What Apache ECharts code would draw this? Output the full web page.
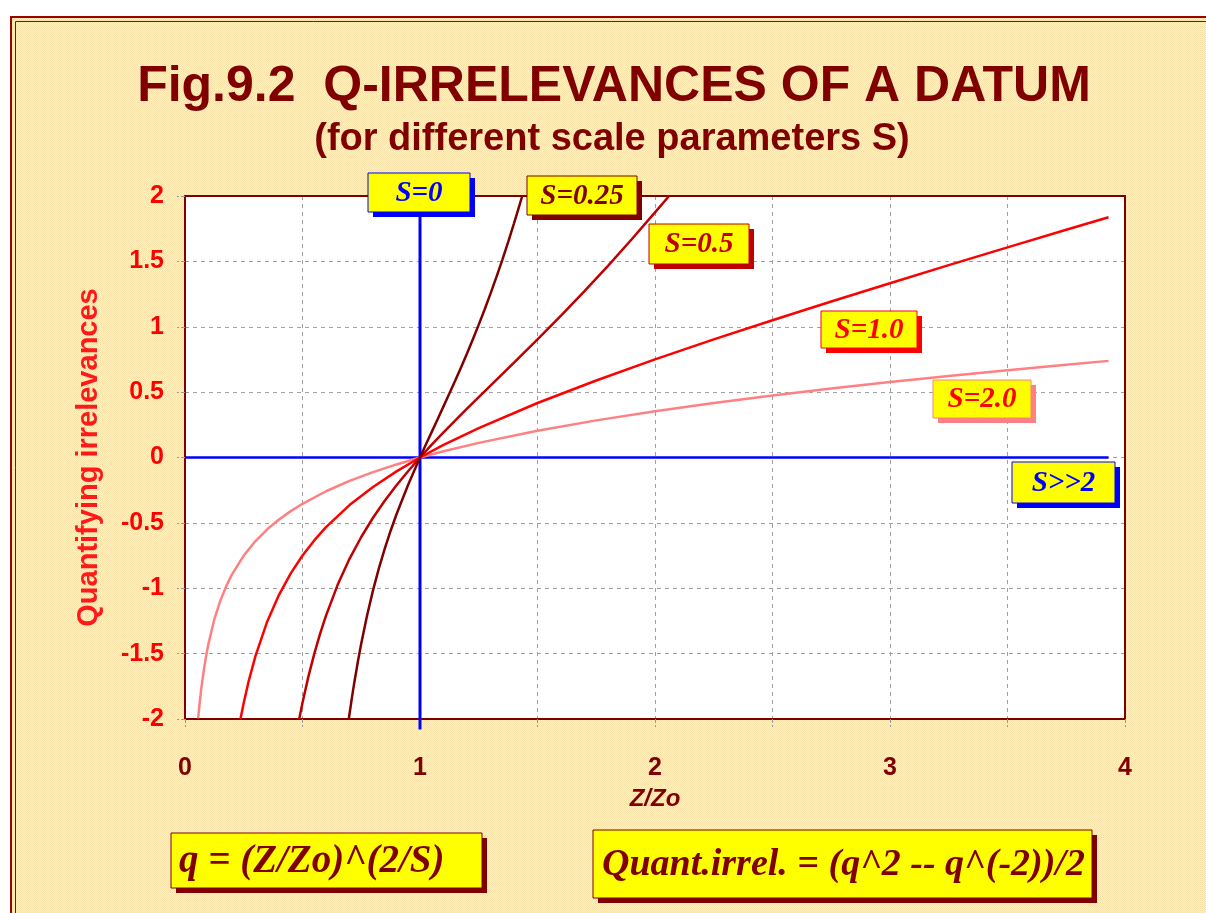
<!DOCTYPE html>
<html>
<head>
<meta charset="utf-8">
<script src="https://cdn.jsdelivr.net/npm/echarts@6/dist/echarts.min.js"></script>
<style>
  html, body { margin: 0; padding: 0; background: #fff; }
  #chart { width: 1206px; height: 913px; }
</style>
</head>
<body>
<div id="chart"></div>
<script>
// values: [Z/Zo, quantifying irrelevance]
const curveS025 = [[0.697,-2.0],[0.71,-1.84],[0.72,-1.726],[0.735,-1.568],[0.75,-1.422],[0.775,-1.206],[0.8,-1.016],[0.825,-0.848],[0.85,-0.697],[0.875,-0.56],[0.9,-0.434],[0.95,-0.207],[1,0],[1.025,0.099],[1.05,0.196],[1.075,0.293],[1.1,0.391],[1.125,0.489],[1.15,0.589],[1.175,0.691],[1.2,0.796],[1.225,0.904],[1.25,1.016],[1.275,1.132],[1.3,1.253],[1.325,1.379],[1.35,1.51],[1.375,1.647],[1.4,1.791],[1.42,1.91],[1.435,2.0]];
const curveS05 = [[0.486,-2.0],[0.5,-1.875],[0.525,-1.676],[0.55,-1.502],[0.575,-1.347],[0.6,-1.209],[0.65,-0.972],[0.7,-0.775],[0.75,-0.608],[0.8,-0.461],[0.85,-0.331],[0.9,-0.212],[0.95,-0.103],[1,0],[1.05,0.098],[1.1,0.192],[1.2,0.373],[1.3,0.549],[1.4,0.725],[1.5,0.903],[1.6,1.085],[1.7,1.272],[1.8,1.466],[1.9,1.667],[2.0,1.875],[2.06,2.0]];
const curveS1 = [[0.236,-2.0],[0.25,-1.875],[0.27,-1.717],[0.3,-1.517],[0.35,-1.254],[0.4,-1.05],[0.45,-0.886],[0.5,-0.75],[0.55,-0.634],[0.6,-0.533],[0.7,-0.364],[0.8,-0.225],[0.9,-0.106],[1,0],[1.1,0.096],[1.25,0.225],[1.5,0.417],[1.75,0.589],[2,0.75],[2.25,0.903],[2.5,1.05],[2.75,1.193],[3,1.333],[3.25,1.471],[3.5,1.607],[3.75,1.742],[3.93,1.838]];
const curveS2 = [[0.056,-1.995],[0.06,-1.919],[0.065,-1.834],[0.07,-1.758],[0.08,-1.626],[0.09,-1.517],[0.1,-1.423],[0.125,-1.237],[0.15,-1.097],[0.175,-0.986],[0.2,-0.894],[0.25,-0.75],[0.3,-0.639],[0.35,-0.549],[0.4,-0.474],[0.45,-0.41],[0.5,-0.354],[0.6,-0.258],[0.7,-0.179],[0.8,-0.112],[0.9,-0.053],[1,0],[1.1,0.048],[1.25,0.112],[1.5,0.204],[1.75,0.284],[2,0.354],[2.25,0.417],[2.5,0.474],[2.75,0.528],[3,0.577],[3.25,0.624],[3.5,0.668],[3.75,0.71],[3.93,0.739]];
const lineS0 = [[1,-2.08],[1,2]];
const lineSinf = [[0,0],[3.93,0]];
const xTicks = { min: 0, max: 4, step: 0.5 };
const yTicks = { min: -2, max: 2, step: 0.5 };

const DARK = '#800000';

// hatched yellow paper
const pat = document.createElement('canvas');
pat.width = 4; pat.height = 4;
const pc = pat.getContext('2d');
pc.fillStyle = '#FFF1C4';
pc.fillRect(0, 0, 4, 4);
pc.fillStyle = '#F7E2AA';
for (let i = 0; i < 4; i++) { pc.fillRect(i, i, 1, 1); pc.fillRect((i + 2) % 4, i, 1, 1); }

// yellow label box with a solid drop shadow; pad = left padding (null -> centred text)
function tag(x, y, w, h, text, color, shadow, border, font, pad) {
  const left = pad != null;
  return {
    type: 'group', z: 100,
    children: [
      { type: 'rect', shape: { x: x + 5, y: y + 5, width: w, height: h }, style: { fill: shadow }, z: 100 },
      { type: 'rect', shape: { x: x, y: y, width: w, height: h }, style: { fill: '#FFFF00', stroke: border, lineWidth: 1 }, z: 101 },
      { type: 'text', x: left ? x + pad : x + w / 2, y: y + h / 2 + 1, z: 102,
        style: { text: text, fill: color, font: font || 'italic bold 29px "Liberation Serif"', align: left ? 'left' : 'center', verticalAlign: 'middle' } }
    ]
  };
}

const gridLine = { show: true, lineStyle: { color: '#A0A0A0', type: [4, 4], width: 1 } };
const tick = { show: true, length: 8, lineStyle: { color: '#999', type: 'dashed' } };
const frameAxis = {
  type: 'value', axisLine: { show: true, onZero: false, lineStyle: { color: DARK, width: 2 } },
  axisTick: { show: false }, axisLabel: { show: false }, splitLine: { show: false }
};

const chart = echarts.init(document.getElementById('chart'));
const option = {
  backgroundColor: { image: pat, repeat: 'repeat' },
  animation: false,
  grid: { left: 185, right: 81, top: 196, bottom: 194, show: true, backgroundColor: '#FFFFFF', borderWidth: 0 },
  xAxis: [{
    type: 'value', min: xTicks.min, max: xTicks.max, interval: xTicks.step,
    name: 'Z/Zo', nameLocation: 'middle', nameGap: 68,
    nameTextStyle: { color: DARK, fontFamily: '"Liberation Sans"', fontWeight: 'bold', fontStyle: 'italic', fontSize: 24 },
    axisLine: { onZero: false, lineStyle: { color: DARK, width: 2 } },
    axisTick: tick,
    axisLabel: { margin: 37, color: DARK, fontFamily: '"Liberation Sans"', fontWeight: 'bold', fontSize: 25,
      formatter: v => (Math.abs(v - Math.round(v)) < 1e-9 ? String(Math.round(v)) : '') },
    splitLine: gridLine
  }, Object.assign({ position: 'top', min: xTicks.min, max: xTicks.max }, frameAxis)],
  yAxis: [{
    type: 'value', min: yTicks.min, max: yTicks.max, interval: yTicks.step,
    name: 'Quantifying irrelevances', nameLocation: 'middle', nameGap: 82,
    nameTextStyle: { color: '#FF1A1A', fontFamily: '"Liberation Sans"', fontWeight: 'bold', fontSize: 29 },
    axisLine: { onZero: false, lineStyle: { color: DARK, width: 2 } },
    axisTick: tick,
    axisLabel: { margin: 21, color: '#FF0000', fontFamily: '"Liberation Sans"', fontWeight: 'bold', fontSize: 25 },
    splitLine: gridLine
  }, Object.assign({ position: 'right', min: yTicks.min, max: yTicks.max }, frameAxis)],
  series: [
    { name: 'S=0', type: 'line', data: lineS0, showSymbol: false, clip: false, lineStyle: { color: '#0000FF', width: 3 } },
    { name: 'S>>2', type: 'line', data: lineSinf, showSymbol: false, lineStyle: { color: '#0000FF', width: 2.5 } },
    { name: 'S=2.0', type: 'line', data: curveS2, showSymbol: false, lineStyle: { color: '#FF8080', width: 2.5 } },
    { name: 'S=1.0', type: 'line', data: curveS1, showSymbol: false, lineStyle: { color: '#FF0000', width: 2.5 } },
    { name: 'S=0.5', type: 'line', data: curveS05, showSymbol: false, lineStyle: { color: '#C00000', width: 2.5 } },
    { name: 'S=0.25', type: 'line', data: curveS025, showSymbol: false, lineStyle: { color: '#800000', width: 2.5 } }
  ],
  graphic: [
    // white page margin + double frame
    { type: 'rect', shape: { x: 0, y: 0, width: 1206, height: 16 }, style: { fill: '#FFFFFF' }, z: 90 },
    { type: 'rect', shape: { x: 0, y: 0, width: 10, height: 913 }, style: { fill: '#FFFFFF' }, z: 90 },
    { type: 'rect', shape: { x: 11, y: 17, width: 1220, height: 920 }, style: { fill: null, stroke: '#A00000', lineWidth: 2 }, z: 91 },
    { type: 'rect', shape: { x: 15.5, y: 21.5, width: 1220, height: 920 }, style: { fill: null, stroke: '#A00000', lineWidth: 1 }, z: 91 },
    // titles
    { type: 'text', x: 614, y: 87, z: 100, style: { text: 'Fig.9.2  Q-IRRELEVANCES OF A DATUM', fill: DARK, font: 'bold 50px "Liberation Sans"', align: 'center', verticalAlign: 'middle' } },
    { type: 'text', x: 612, y: 140, z: 100, style: { text: '(for different scale parameters S)', fill: DARK, font: 'bold 38px "Liberation Sans"', align: 'center', verticalAlign: 'middle' } },
    // curve tags
    tag(368, 173, 102, 39, 'S=0', '#0000FF', '#0000FF', '#0000FF'),
    tag(527, 176, 110, 39, 'S=0.25', DARK, DARK, DARK),
    tag(649, 224, 100, 40, 'S=0.5', '#C00000', '#C00000', '#C00000'),
    tag(821, 311, 96, 37, 'S=1.0', '#FF0000', '#FF0000', '#FF0000'),
    tag(933, 380, 98, 38, 'S=2.0', '#FF0000', '#FF8080', '#FF8080'),
    tag(1012, 462, 103, 41, 'S>>2', '#0000FF', '#0000FF', '#0000FF'),
    // formulas
    tag(171, 833, 311, 55, 'q = (Z/Zo)^(2/S)', DARK, DARK, DARK, 'italic bold 39px "Liberation Serif"', 8),
    tag(593, 830, 499, 68, 'Quant.irrel. = (q^2 -- q^(-2))/2', DARK, DARK, DARK, 'italic bold 38px "Liberation Serif"', 9)
  ]
};
chart.setOption(option);
</script>
</body>
</html>
